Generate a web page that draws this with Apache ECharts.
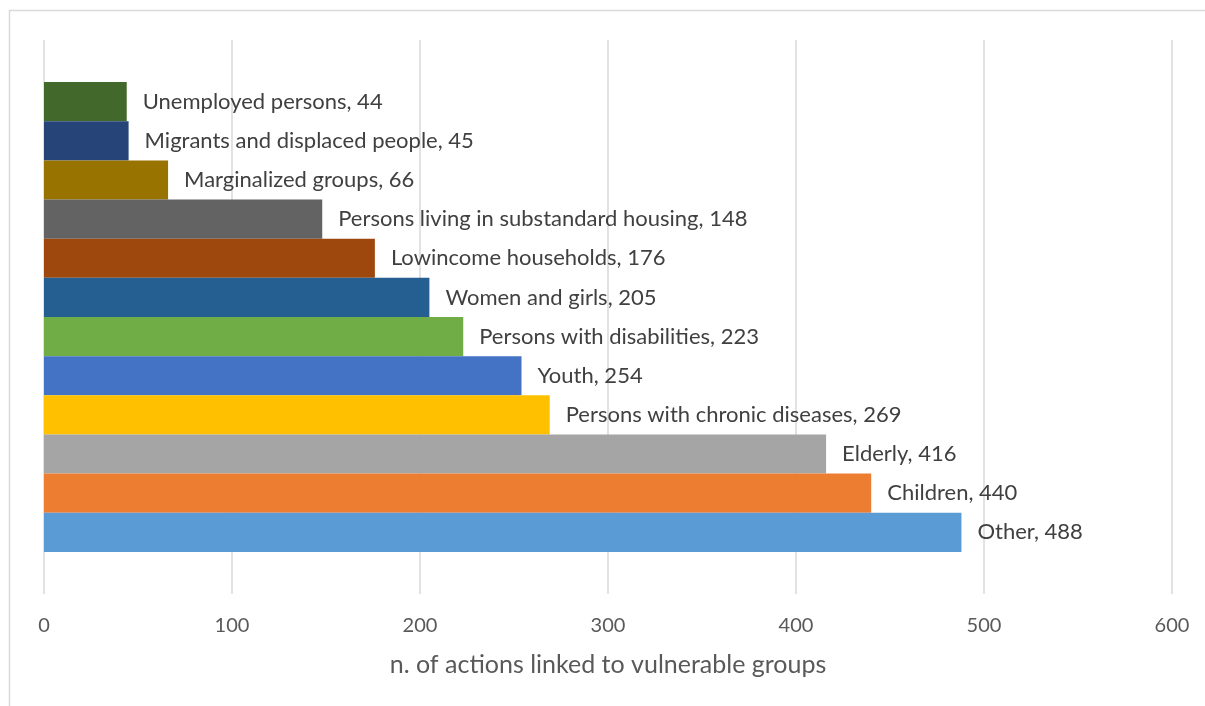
<!DOCTYPE html>
<html>
<head>
<meta charset="utf-8">
<script src="https://cdn.jsdelivr.net/npm/echarts@6/dist/echarts.min.js"></script>
<style>html,body{margin:0;padding:0;background:#fff;}#c{width:1205px;height:706px;}</style>
</head>
<body>
<div id="c"></div>
<script>
// Groups listed top-to-bottom as drawn
const groups = ["Unemployed persons","Migrants and displaced people","Marginalized groups","Persons living in substandard housing","Lowincome households","Women and girls","Persons with disabilities","Youth","Persons with chronic diseases","Elderly","Children","Other"];
const values = [44,45,66,148,176,205,223,254,269,416,440,488];
const colors = ["#43682B","#264478","#997300","#636363","#9E480E","#255E91","#70AD47","#4472C4","#FFC000","#A5A5A5","#ED7D31","#5B9BD5"];
const xTicks = [0,100,200,300,400,500,600];
const axisTitle = "n. of actions linked to vulnerable groups";

const FONT = "Lato";
const chart = echarts.init(document.getElementById('c'), null, {renderer:'canvas'});
const series = groups.map((g,i)=>({
  name: g,
  type: 'bar',
  data: [values[i]],
  barGap: '0%',
  barCategoryGap: '15.2%',
  itemStyle: {color: colors[i]},
  label: {show:true, position:'right', distance:16, formatter:'{a}, {c}', color:'#404040', fontFamily:FONT, fontSize:22},
  animation:false
}));
chart.setOption({
  animation:false,
  graphic:[{type:'rect', shape:{x:9.5,y:10.5,width:1300,height:800}, style:{fill:null, stroke:'#d9d9d9', lineWidth:1.5}, silent:true}],
  grid:{left:44, right:33, top:40, bottom:112},
  xAxis:{type:'value', min:xTicks[0], max:xTicks[xTicks.length-1], interval:100,
    axisLine:{show:false}, axisTick:{show:false},
    splitLine:{lineStyle:{color:'#d9d9d9', width:1.5}},
    axisLabel:{color:'#595959', fontFamily:FONT, fontSize:20, margin:22},
    name:axisTitle, nameLocation:'middle', nameGap:58,
    nameTextStyle:{color:'#595959', fontFamily:FONT, fontSize:25}},
  yAxis:{type:'category', data:[''], axisLine:{show:false}, axisTick:{show:false}, axisLabel:{show:false}},
  series: series
});
</script>
</body>
</html>
